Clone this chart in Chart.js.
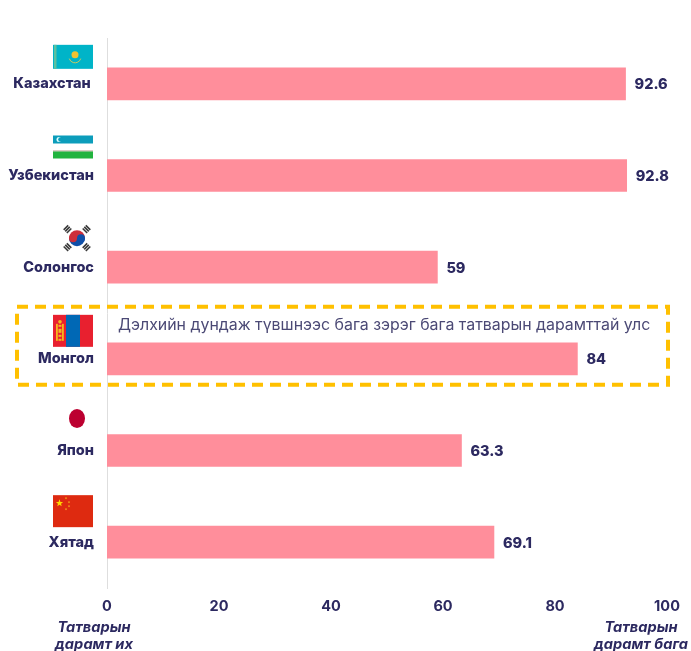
<!DOCTYPE html>
<html><head><meta charset="utf-8">
<style>html,body{margin:0;padding:0;background:#fff}canvas{display:block}</style>
<script src="https://cdn.jsdelivr.net/npm/chart.js@4"></script>
</head><body>
<div style="position:relative;width:691px;height:651px"><canvas id="c" width="691" height="651"></canvas></div>
<script>
const categories = ["Казахстан ", "Узбекистан", "Солонгос", "Монгол", "Япон", "Хятад"];
const values = [92.6, 92.8, 59, 84, 63.3, 69.1];
const flagCodes = ["kz", "uz", "kr", "mn", "jp", "cn"];
const tickValues = [0, 20, 40, 60, 80, 100];
const note = "Дэлхийн дундаж түвшнээс бага зэрэг бага татварын дарамттай улс";
const noteIndex = 3;
const axisLeftNote = ["Татварын", "дарамт их"];
const axisRightNote = ["Татварын", "дарамт бага"];

const INK = "#2c2960", FONT = "Inter, 'Noto Sans', sans-serif";

function star(g, x, y, r, col) {
  g.fillStyle = col; g.beginPath();
  for (let i = 0; i < 10; i++) {
    const a = -Math.PI / 2 + i * Math.PI / 5, q = i % 2 ? r * 0.42 : r;
    g.lineTo(x + q * Math.cos(a), y + q * Math.sin(a));
  }
  g.closePath(); g.fill();
}
function trigram(g, x, y, ang) {
  g.save(); g.translate(x, y); g.rotate(ang); g.fillStyle = "#3a3a3a";
  g.fillRect(-3.2, -3, 6.4, 1.6); g.fillRect(-3.2, -0.8, 6.4, 1.6); g.fillRect(-3.2, 1.4, 6.4, 1.6);
  g.restore();
}
// each flag is drawn relative to the centre of its category row (cy)
const flags = {
  kz(g, cy) {
    const t = cy - 39;
    g.fillStyle = "#00b4c8"; g.fillRect(53, t, 40, 24);
    g.fillStyle = "#5cc0a0"; g.fillRect(54, t, 2.5, 24);
    g.fillStyle = "#f2c230"; g.beginPath(); g.arc(75, t + 10, 3.5, 0, 7); g.fill();
    g.strokeStyle = "#c8c860"; g.lineWidth = 1; g.beginPath(); g.arc(75, t + 12, 6, 0.3, 2.84); g.stroke();
  },
  uz(g, cy) {
    const t = cy - 40;
    g.fillStyle = "#0c9dbb"; g.fillRect(53, t, 40, 8);
    g.fillStyle = "#dff"; g.beginPath(); g.arc(59, t + 4, 2.5, 0, 7); g.fill();
    g.fillStyle = "#0c9dbb"; g.beginPath(); g.arc(60.5, t + 4, 2.3, 0, 7); g.fill();
    g.fillStyle = "#b09a8c"; g.fillRect(53, t + 15, 40, 1);
    g.fillStyle = "#22b33f"; g.fillRect(53, t + 16, 40, 7);
  },
  kr(g, cy) {
    const x = 77, y = cy - 29, r = 8;
    trigram(g, x - 9.5, y - 9, -Math.PI / 4);
    trigram(g, x + 9.5, y - 9, Math.PI / 4);
    trigram(g, x - 9.5, y + 9, Math.PI / 4);
    trigram(g, x + 9.5, y + 9, -Math.PI / 4);
    g.fillStyle = "#cd2e3a"; g.beginPath(); g.arc(x, y, r, Math.PI, 0); g.fill();
    g.fillStyle = "#0f4fa8"; g.beginPath(); g.arc(x, y, r, 0, Math.PI); g.fill();
    g.fillStyle = "#cd2e3a"; g.beginPath(); g.arc(x - r / 2, y, r / 2, 0, 7); g.fill();
    g.fillStyle = "#0f4fa8"; g.beginPath(); g.arc(x + r / 2, y, r / 2, 0, 7); g.fill();
  },
  mn(g, cy) {
    const t = cy - 44;
    g.fillStyle = "#e8202f"; g.fillRect(53, t, 40, 32);
    g.fillStyle = "#0068b5"; g.fillRect(66, t, 14, 32);
    g.fillStyle = "#f5b81c";
    g.fillRect(56, t + 9, 1.8, 17); g.fillRect(62, t + 9, 1.8, 17);
    g.fillRect(58.5, t + 10, 3, 2); g.fillRect(58.5, t + 14, 3, 4); g.fillRect(58.5, t + 20, 3, 2); g.fillRect(58.5, t + 24, 3, 2);
    g.beginPath(); g.arc(60, t + 7, 1.8, 0, 7); g.fill();
  },
  jp(g, cy) {
    g.fillStyle = "#bc0030"; g.beginPath(); g.ellipse(77, cy - 32, 8, 9.5, 0, 0, 7); g.fill();
  },
  cn(g, cy) {
    const t = cy - 47;
    g.fillStyle = "#de2a10"; g.fillRect(53, t, 40, 32);
    star(g, 59.5, t + 8, 3.8, "#ffd800");
    star(g, 66, t + 3, 1.3, "#f5b81c"); star(g, 69, t + 7, 1.3, "#f5b81c");
    star(g, 69, t + 11, 1.3, "#f5b81c"); star(g, 66, t + 14, 1.3, "#f5b81c");
  }
};

const overlay = {
  id: "overlay",
  afterDatasetsDraw(chart) {
    const g = chart.ctx, y = chart.scales.y, x = chart.scales.x, meta = chart.getDatasetMeta(0);
    g.save();
    // value labels
    g.font = "800 14.5px " + FONT; g.fillStyle = INK; g.textAlign = "left"; g.textBaseline = "middle";
    values.forEach((v, i) => g.fillText(String(v), meta.data[i].x + 9, meta.data[i].y + 1));
    // flags
    flagCodes.forEach((c, i) => flags[c](g, y.getPixelForValue(i)));
    // highlight box
    const cy = y.getPixelForValue(noteIndex);
    g.strokeStyle = "#ffc000"; g.lineWidth = 4; g.setLineDash([11, 7]);
    g.strokeRect(17, cy - 52, 651, 78);
    g.setLineDash([]);
    // note
    g.font = "400 15.9px " + FONT; g.fillStyle = "#4b4975"; g.textAlign = "left";
    g.fillText(note, x.getPixelForValue(0) + 11, cy - 34);
    // axis end notes
    g.font = "italic 700 14.6px " + FONT; g.fillStyle = INK; g.textAlign = "center";
    axisLeftNote.forEach((s, i) => g.fillText(s, 94, 628 + i * 17));
    axisRightNote.forEach((s, i) => g.fillText(s, 641, 628 + i * 17));
    g.restore();
  }
};

new Chart(document.getElementById("c"), {
  type: "bar",
  data: { labels: categories, datasets: [{ data: values, backgroundColor: "#ff8e9b", borderWidth: 0, barThickness: 32 }] },
  plugins: [overlay],
  options: {
    indexAxis: "y", responsive: false, animation: false,
    layout: { padding: { top: 38, right: 24, left: 0, bottom: 0 } },
    plugins: { legend: { display: false }, tooltip: { enabled: false } },
    scales: {
      x: {
        min: 0, max: 100, afterBuildTicks(s) { s.ticks = tickValues.map(v => ({ value: v })); },
        grid: { display: false }, border: { display: false },
        ticks: { color: INK, font: { family: FONT, size: 14.5, weight: "700" }, padding: 2, maxRotation: 0 },
        afterFit(s) { s.height = 63; }
      },
      y: {
        grid: { display: false }, border: { display: true, color: "#dedede", width: 1 },
        ticks: { color: INK, font: { family: FONT, size: 14.5, weight: "800" }, padding: 5, autoSkip: false },
        afterFit(s) { s.width = 107; }
      }
    }
  }
});
</script>
</body></html>
